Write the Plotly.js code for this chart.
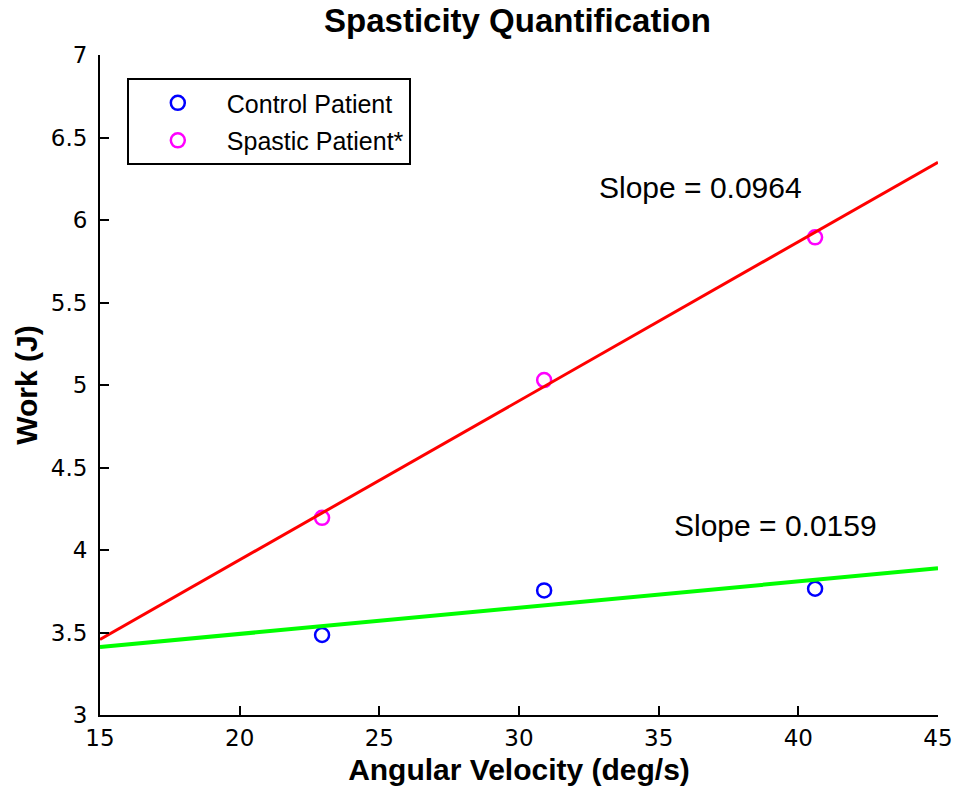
<!DOCTYPE html>
<html>
<head>
<meta charset="utf-8">
<script src="https://cdn.plot.ly/plotly-3.0.1.min.js"></script>
<style>html,body{margin:0;padding:0;background:#fff;}#chart{width:953px;height:789px;}</style>
</head>
<body>
<div id="chart"></div>
<script>
// Data
const controlX = [22.95, 30.9, 40.6];
const controlY = [3.485, 3.755, 3.765];
const spasticX = [22.95, 30.9, 40.6];
const spasticY = [4.195, 5.03, 5.895];
const fitX = [15, 45];
const spasticFitY = [3.458, 6.35];
const controlFitY = [3.412, 3.889];
const slopeLabels = ["Slope = 0.0964", "Slope = 0.0159"];
const slopeLabelX = [36.5, 39.2];
const slopeLabelY = [6.2, 4.15];
const xTicks = [15, 20, 25, 30, 35, 40, 45];
const yTicks = [3, 3.5, 4, 4.5, 5, 5.5, 6, 6.5, 7];

const FONT = "Arial, 'Liberation Sans', Helvetica, sans-serif";
const TICKFONT = "'DejaVu Sans', Verdana, sans-serif";

const traces = [
  {x: controlX, y: controlY, mode: "markers", name: "Control Patient", legendgroup: "a",
   marker: {symbol: "circle-open", size: 14, color: "#0000ff", line: {width: 2.5, color: "#0000ff"}}},
  {x: spasticX, y: spasticY, mode: "markers", name: "Spastic Patient*", legendgroup: "b",
   marker: {symbol: "circle-open", size: 14, color: "#ff00ff", line: {width: 2.5, color: "#ff00ff"}}},
  {x: fitX, y: spasticFitY, mode: "lines", showlegend: false, hoverinfo: "skip",
   line: {color: "#ff0000", width: 3}},
  {x: fitX, y: controlFitY, mode: "lines", showlegend: false, hoverinfo: "skip",
   line: {color: "#00ff00", width: 4}}
];

const annotations = slopeLabels.map((t, i) => ({
  x: slopeLabelX[i], y: slopeLabelY[i], xref: "x", yref: "y", text: t,
  showarrow: false, font: {family: FONT, size: 30, color: "#000"}
}));

const layout = {
  width: 953, height: 789,
  margin: {l: 100, r: 15, t: 55, b: 74},
  paper_bgcolor: "#fff", plot_bgcolor: "#fff",
  font: {family: FONT, color: "#000"},
  title: {text: "<b>Spasticity Quantification</b>", font: {family: FONT, size: 33, color: "#000"},
          x: 0.543, xanchor: "center", y: 0.974, yanchor: "middle"},
  xaxis: {range: [15, 45], tickvals: xTicks, ticktext: xTicks.map(String),
          showline: true, linecolor: "#000", linewidth: 2, ticks: "inside", ticklen: 9, tickwidth: 2, tickcolor: "#000",
          showgrid: false, zeroline: false, tickfont: {family: TICKFONT, size: 23, color: "#000"},
          ticklabelstandoff: 1,
          title: {text: "<b>Angular Velocity (deg/s)</b>", font: {family: FONT, size: 30, color: "#000"}, standoff: 9}},
  yaxis: {range: [3, 7], tickvals: yTicks, ticktext: yTicks.map(String),
          showline: true, linecolor: "#000", linewidth: 2, ticks: "inside", ticklen: 9, tickwidth: 2, tickcolor: "#000",
          showgrid: false, zeroline: false, tickfont: {family: TICKFONT, size: 23, color: "#000"},
          ticklabelstandoff: 6,
          title: {text: "<b>Work (J)</b>", font: {family: FONT, size: 30, color: "#000"}, standoff: 4}},
  legend: {x: 0.032, y: 0.965, xanchor: "left", yanchor: "top", bgcolor: "#fff",
           bordercolor: "#000", borderwidth: 2, font: {family: FONT, size: 25, color: "#000"},
           itemwidth: 88, traceorder: "grouped", tracegroupgap: 2},
  annotations: annotations,
  showlegend: true
};

Plotly.newPlot("chart", traces, layout, {displayModeBar: false, responsive: false});
</script>
</body>
</html>
